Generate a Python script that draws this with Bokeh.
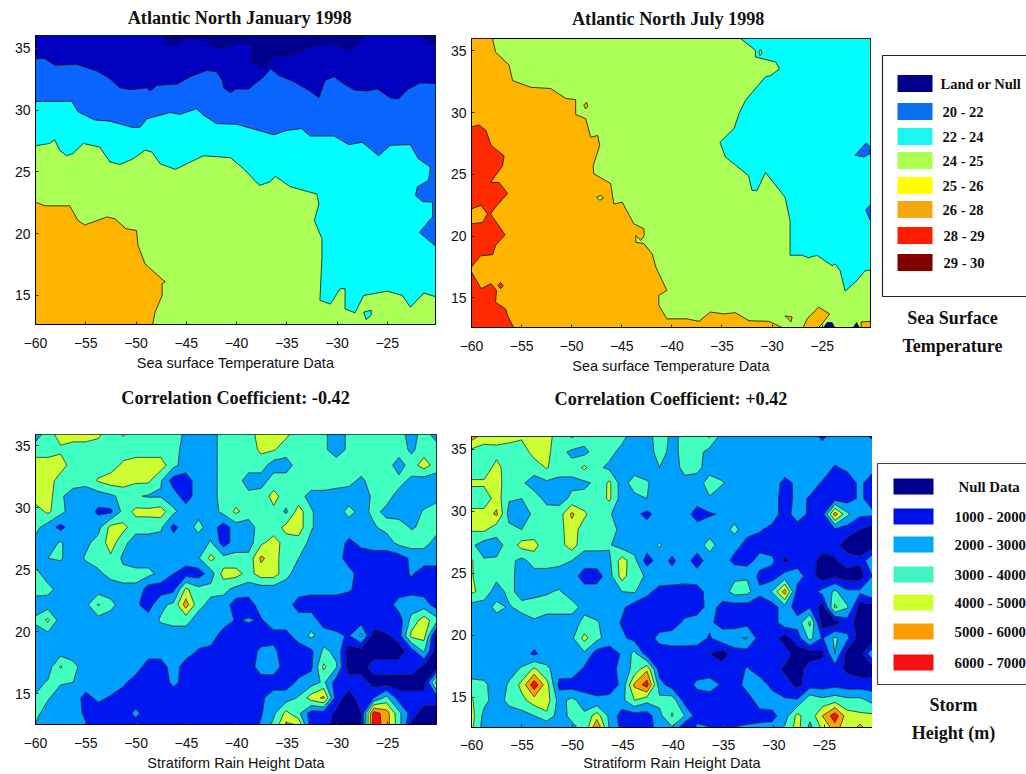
import numpy as np
from bokeh.plotting import figure
from bokeh.layouts import row, column
from bokeh.models import Range1d, FixedTicker
from bokeh.core.properties import value
from bokeh.embed import file_html
from bokeh.resources import INLINE

# ---------- text ----------
titles = ["Atlantic North January 1998", "Atlantic North July 1998",
          "Correlation Coefficient: -0.42", "Correlation Coefficient: +0.42"]
xlabels = ["Sea surface Temperature Data", "Sea surface Temperature Data",
           "Stratiform Rain Height Data", "Stratiform Rain Height Data"]
lon_ticks = [-60, -55, -50, -45, -40, -35, -30, -25]
lat_ticks = [15, 20, 25, 30, 35]

# ---------- colours ----------
C_DARK, C_NAVY, C_BLUE, C_CYAN = "#000090", "#0000BE", "#0A64FF", "#00FFFF"
C_GREEN, C_ORANGE, C_RED = "#ABFF57", "#FFB400", "#FF2A00"
sst_colors = ["#00008F", "#0A70F0", "#1CF5F0", "#ABFF50", "#FFFF00", "#F5A810", "#FF1C00", "#800000"]
sst_labels = ["Land or Null", "20 - 22", "22 - 24", "24 - 25", "25 - 26", "26 - 28", "28 - 29", "29 - 30"]
storm_colors = ["#00008F", "#0010E8", "#00A8F8", "#40F5C0", "#D0FF30", "#FF9C00", "#F81010"]
storm_labels = ["Null Data", "1000 - 2000", "2000 - 3000", "3000 - 4000", "4000 - 5000", "5000 - 6000", "6000 - 7000"]
height_levels = [0, 1000, 2000, 3000, 4000, 5000, 6000, 7000]
height_fill = ["#00008F", "#0018F0", "#00A0FF", "#40FFC0", "#CCFF33", "#FFA000", "#FF1000"]

# ---------- January SST contour boundaries (lon, lat) ----------
jan_navy = [(-60,34.16),(-59.07,34.16),(-58.07,33.62),(-55.9,33.7),(-53.9,33.16),(-52.6,32.54),(-51.6,31.8),(-50.6,31.65),
            (-48.9,31.8),(-48.6,31.55),(-47.9,32.0),(-45.9,32.1),(-44.6,32.7),(-43,33.2),(-42,33.1),(-41.4,32.4),(-41.3,31.8),
            (-40.6,31.4),(-40.1,31.7),(-38.8,31.7),(-37.3,32.7),(-36.6,33.35),(-35.8,32.8),(-34.3,32.3),(-32.8,31.6),(-31.8,31.0),
            (-31.2,32.4),(-30.3,32.7),(-29.3,32.1),(-28.2,31.6),(-27,31.55),(-26,31.7),(-24.7,31.0),(-23.9,30.9),(-22.9,31.7),
            (-21.7,32.2),(-20.2,32.15),(-20.2,36.03),(-60,36.03)]
jan_dark1 = [(-47.4,36.03),(-46.9,35.5),(-46.3,35.25),(-44.95,35.8),(-43.3,35.8),(-42.3,35.25),(-41.6,35),(-40.3,35.5),(-38.3,35.4),
             (-38.5,34),(-37.3,33.35),(-36.5,34.4),(-34.8,34.4),(-33,35.1),(-30.3,35.5),(-28.8,34.85),(-27.3,36.03)]
jan_dark2 = [(-21.4,36.03),(-21,35.65),(-20.2,35.25),(-20.2,36.03)]
jan_blue = [(-60,30.7),(-56.4,30.7),(-55.75,29.85),(-54.1,29.2),(-52.6,29.1),(-50.4,28.6),(-49.6,28.6),(-48.9,29.3),(-46.6,29.8),
            (-45.6,29.65),(-44,30.1),(-43.3,29.6),(-42,28.9),(-40,28.85),(-37.8,28.35),(-36.3,28),(-35,28.35),(-33.5,28.5),(-32.7,27.9),
            (-30.3,27.9),(-28.8,27.2),(-27.5,27.4),(-25.85,26.3),(-24.7,27.15),(-22.7,27.2),(-21.9,26.05),(-20.7,25.4),(-20.9,24.3),
            (-22,23.8),(-22.2,23.1),(-21.5,22.6),(-20.5,22.55),(-20.5,21.35),(-21.8,20.1),(-20.2,19),(-20.2,36.03),(-60,36.03)]
jan_cyan = [(-60,27.1),(-58.6,27.3),(-58.1,27.6),(-57.6,26.75),(-56.9,26.3),(-56.25,26.5),(-55.25,27.3),(-53.6,27),(-52.6,25.8),
            (-51.6,25.6),(-50.3,26.05),(-49.1,26.75),(-48.4,26.6),(-47.6,25.65),(-46.1,25.2),(-44.95,25.65),(-43.3,26.3),(-40.6,26.15),
            (-39.3,25.25),(-37.7,23.9),(-36.65,24.2),(-36.15,24.65),(-34.65,23.8),(-32,23.2),(-31.8,22.4),(-32.25,21.05),(-31.5,19.6),
            (-31.5,18.1),(-31.7,14.6),(-30.65,14.3),(-29.7,15.55),(-29.2,15.55),(-29.2,13.9),(-28.2,13.6),(-27.35,15),(-25,15.35),
            (-23.5,15),(-22.7,14.05),(-21.35,15.2),(-20.2,14.9),(-20.2,36.03),(-60,36.03)]
jan_cyan_islet = [(-27.35,13.65),(-26.6,13.8),(-26.6,13.4),(-27.1,13.05)]
jan_orange = [(-60,22.55),(-59.05,22.25),(-56.6,22.25),(-55.75,21.05),(-55.1,20.7),(-52.9,21.35),(-52.1,21.2),(-51,20.4),(-49.95,20.25),
              (-49.8,19.05),(-49.1,17.55),(-47.1,16.1),(-47.4,15.95),(-47.4,15),(-48.1,13.65),(-48.35,12.65),(-60,12.65)]

# ---------- July SST contour boundaries (lon, lat) ----------
jul_orange = [(-57.9,36),(-57.6,34.9),(-56.25,33.85),(-55.9,32.6),(-54.1,32.05),(-52.1,31.95),(-50.6,31.15),(-49.6,31.05),(-49.6,29.85),
              (-48.6,29.5),(-48.1,28),(-47.4,28.15),(-47.2,27.35),(-47.85,25.7),(-47.8,25.05),(-46.1,24.25),(-45.8,22.6),(-44.95,22.75),
              (-43.8,21),(-42.8,20.6),(-42.75,20.05),(-43.1,19.65),(-43.6,20.05),(-43.6,19.5),(-42.8,19.4),(-41.95,18.55),(-41.6,17.5),
              (-40.5,15.6),(-41.3,15.2),(-41.3,14.4),(-40.5,13.3),(-38.5,13.3),(-37.3,13.1),(-36.15,13.85),(-34.8,13.7),(-33.65,13.8),
              (-32.3,13.15),(-30.3,13.1),(-29,12.6),(-60,12.6),(-60,36)]
jul_red1 = [(-60,28.85),(-59.25,29),(-58.55,28.55),(-58.05,27.35),(-56.75,26.5),(-56.9,25.7),(-58.1,24.35),(-57.25,24.35),(-56.4,23.45),
            (-57.6,22.35),(-58.1,21.8),(-56.65,20.1),(-57.6,19.25),(-57.9,18.5),(-59.1,18.4),(-60,17.5)]
jul_orange_hole = [(-60,22.2),(-59.05,22.5),(-58.4,21.8),(-58.9,21.1),(-60,21)]
jul_red2 = [(-60,17.1),(-59.05,15.75),(-58.05,16.15),(-57.5,15.6),(-57.6,14.65),(-56.6,14.1),(-56.4,13.55),(-55.8,12.6),(-60,12.6)]
jul_cyan = [(-33.15,36),(-31.65,35.05),(-31.65,34.5),(-29.65,34.1),(-29.25,33.55),(-30.15,33),(-30.65,32.9),(-32.65,31),(-33.3,29.9),
            (-33.8,28.7),(-35.2,27.6),(-34.65,26.4),(-32.35,24.9),(-32,23.7),(-31.5,23.7),(-30.65,25.15),(-28.7,23.15),(-28.2,21.25),
            (-28.2,18.45),(-27,18.45),(-26.35,18.25),(-25.5,18.45),(-24,17.6),(-23.7,17.75),(-23.2,17.2),(-22.7,15.55),(-21.7,16.25),
            (-20.7,17.2),(-20.17,17.25),(-20.17,36)]
jul_blue1 = [(-21.7,26.55),(-20.6,27.55),(-20.17,27.2),(-20.25,26.65),(-20.85,26.4)]
jul_blue2 = [(-20.17,22.55),(-20.65,22.1),(-20.17,21.25)]
jul_orange_isl = [[(-26.9,12.6),(-26.5,13.3),(-25.35,14.25),(-24.25,13.7),(-25,12.9),(-25.35,12.6)],
                  [(-21.1,13.05),(-20.17,13.1),(-20.17,12.6),(-21.1,12.6)],
                  [(-28.7,13.55),(-28,13.45),(-28.1,13.05)],
                  [(-48.8,30.6),(-48.5,30.85),(-48.4,30.5),(-48.6,30.3)]]
jul_green_isl = [[(-47.5,23.15),(-47.1,23.3),(-46.8,23.1),(-47.2,22.9)], [(-31.3,35),(-31.1,35.1),(-31,34.8),(-31.2,34.6)]]
jul_red_isl = [[(-57.35,16),(-57.1,16.25),(-56.85,16),(-57.1,15.75)]]
jul_navy_isl = [[(-24.85,12.6),(-24.5,13),(-24,13),(-23.75,12.6)], [(-21.9,12.6),(-21.55,13),(-21.3,12.6)]]

# ---------- stratiform rain height, hundreds of metres, January (north to south) ----------
jan_height = [
 [25,35,45,45,45,42,35,41,35,35,35,35,28,25,25,35,35,35,45,45,42,35,35,32,25,32,35,35,35,35,25,35,25],
 [35,35,38,35,35,35,35,35,35,35,35,35,25,25,25,35,35,35,42,41,35,35,35,32,25,32,35,35,35,35,28,35,35],
 [45,45,45,35,33,35,35,42,45,45,45,33,25,25,25,35,35,35,35,25,25,35,35,35,35,35,35,35,35,25,35,45,35],
 [45,45,35,33,33,41,45,45,42,42,31,15,15,25,25,35,35,25,25,35,35,35,35,35,35,33,28,35,35,33,28,25,25],
 [45,45,31,27,25,25,28,33,31,29,29,25,15,25,25,35,35,33,35,43,36,33,27,27,25,25,25,32,33,27,25,25,27],
 [35,42,33,25,25,18,18,33,43,43,45,32,25,27,25,33,42,35,35,38,28,45,31,25,25,33,27,32,28,25,25,31,34],
 [33,25,17,25,25,27,43,43,34,34,32,17,25,33,25,15,25,25,35,35,43,45,31,25,30,25,25,29,33,35,29,32,33],
 [27,26,31,25,28,33,45,33,25,25,25,25,25,25,31,15,25,25,38,44,36,36,27,25,25,18,22,25,25,33,35,33,27],
 [25,30,31,25,31,34,38,28,25,25,25,25,25,29,43,33,33,33,52,45,33,30,25,25,25,15,16,15,15,15,22,25,25],
 [33,25,25,25,25,28,33,33,33,33,27,20,15,15,25,44,44,36,45,45,33,25,25,25,25,24,15,15,15,15,21,15,15],
 [34,33,26,25,25,25,25,28,28,15,15,17,42,33,33,33,27,25,25,25,25,25,23,23,23,21,17,15,15,15,17,15,15],
 [25,25,25,25,27,41,33,25,22,15,28,32,55,33,27,25,15,15,25,25,25,15,15,15,15,15,15,15,15,24,25,25,15],
 [32,42,25,25,25,26,25,25,25,25,31,33,33,26,25,25,19,21,19,25,25,25,25,15,15,15,15,17,20,15,33,45,34],
 [25,26,25,25,25,25,25,25,25,25,25,25,25,25,25,15,15,15,15,17,17,24,32,25,22,19,32,5,8,15,43,44,5],
 [25,25,25,25,25,25,25,25,25,25,25,25,25,19,17,15,15,15,22,22,15,15,18,32,28,5,5,5,5,5,15,31,5],
 [25,25,41,33,25,25,25,25,25,15,15,25,15,18,15,15,15,15,25,25,15,15,18,42,31,5,5,15,15,15,15,8,5],
 [27,31,31,30,25,25,25,22,15,15,15,22,17,15,15,15,15,15,15,15,15,22,25,32,15,15,15,5,5,5,5,5,45],
 [31,31,25,25,17,22,19,15,15,15,15,15,15,15,15,15,15,15,18,25,25,31,45,52,15,5,15,20,33,15,15,15,15],
 [33,25,25,25,18,15,15,15,22,15,15,15,15,15,15,15,15,15,19,28,43,32,15,15,8,5,10,65,55,33,15,5,5],
 [28,25,25,25,22,15,15,15,15,15,15,15,15,15,15,15,15,15,22,34,55,55,15,15,5,5,8,67,55,35,5,5,5],
]

# ---------- stratiform rain height, hundreds of metres, July (north to south) ----------
jul_height = [
 [55,45,45,45,42,45,44,35,41,35,35,35,33,25,26,35,28,32,35,41,25,25,25,25,25,25,25,25,18,25,25,22,19],
 [36,35,36,33,33,45,43,33,28,27,35,33,27,25,25,34,27,33,34,26,25,25,25,25,25,25,25,25,25,25,25,25,25],
 [33,33,44,33,33,33,41,33,33,42,32,28,25,25,25,30,25,33,33,25,25,25,25,25,25,25,25,25,25,19,22,23,23],
 [42,42,45,33,31,27,28,28,28,28,32,42,25,35,31,25,25,27,25,35,31,25,25,25,25,17,22,24,19,15,15,22,15],
 [33,33,45,31,30,33,28,26,32,33,33,42,25,27,30,25,25,25,25,29,23,25,25,25,25,15,23,19,15,15,15,22,15],
 [44,44,52,26,25,32,33,35,52,42,33,31,25,23,17,25,25,25,15,19,21,25,25,24,25,15,25,18,15,55,32,22,22],
 [41,42,33,33,30,33,33,37,45,35,33,33,28,25,25,25,26,25,25,25,25,33,23,21,17,15,15,15,15,18,15,10,5],
 [32,25,27,33,44,44,32,36,45,33,33,31,25,25,25,31,25,25,25,34,25,23,17,15,15,15,15,15,15,13,5,5,5],
 [41,31,31,33,27,34,35,33,30,25,25,28,45,33,15,25,18,25,15,25,25,17,15,25,22,8,15,15,5,9,15,12,30],
 [41,33,33,33,26,26,25,25,25,15,15,26,44,33,29,25,24,25,25,24,25,28,29,17,15,24,25,15,5,9,5,5,20],
 [42,36,25,33,26,28,29,31,25,25,25,25,30,31,22,17,17,15,16,24,25,34,33,22,31,55,15,15,23,32,22,22,30],
 [25,25,33,29,33,33,34,34,34,27,25,25,22,15,15,15,15,15,15,24,17,15,15,15,15,26,15,19,5,42,31,5,5],
 [25,25,25,25,25,29,25,25,25,33,31,25,19,15,15,15,15,22,25,22,16,15,17,15,15,26,24,42,5,5,15,5,5],
 [25,25,25,25,25,25,25,25,28,43,33,25,22,17,15,23,25,25,24,19,26,28,31,15,15,5,15,33,19,32,22,5,5],
 [25,25,25,25,25,18,25,25,26,28,15,15,21,33,15,15,15,15,15,10,5,15,15,15,15,15,5,5,8,30,5,5,28],
 [25,25,25,27,31,42,32,25,27,18,15,15,24,33,48,15,15,15,15,15,15,15,21,15,15,8,5,15,15,15,8,5,5],
 [33,32,25,31,43,67,44,17,15,15,15,15,22,52,65,24,15,15,22,24,19,15,24,25,17,15,7,15,15,17,15,15,15],
 [41,33,25,33,37,45,45,26,33,25,22,23,27,40,33,33,36,16,15,15,15,15,15,25,25,21,21,38,33,36,33,33,27],
 [44,27,25,25,26,30,38,25,33,32,45,28,15,15,15,27,41,30,15,15,15,15,15,16,17,25,43,33,50,66,44,42,42],
 [42,25,25,25,25,25,15,22,25,32,67,30,18,15,15,24,25,5,25,22,15,22,24,25,25,33,44,25,40,52,45,57,45],
]


def base_fig(i, x_end, y0, y1, left, right, bottom, fw, fh, tick_off=13, lab_off=4):
    p = figure(frame_width=fw, frame_height=fh, output_backend="svg", toolbar_location=None,
               x_range=Range1d(-60, x_end), y_range=Range1d(y0, y1),
               min_border_left=left, min_border_right=right, min_border_top=1, min_border_bottom=bottom)
    p.grid.visible = False
    p.outline_line_color = "black"
    p.outline_line_width = 1
    p.xaxis.axis_label = xlabels[i]
    p.xaxis.axis_label_text_font = "Liberation Sans"
    p.xaxis.axis_label_text_font_size = "14.5px"
    p.xaxis.axis_label_text_font_style = "normal"
    p.xaxis.axis_label_text_color = "#111111"
    p.xaxis.axis_label_standoff = lab_off
    p.xaxis.ticker = FixedTicker(ticks=lon_ticks)
    p.xaxis.major_label_overrides = {t: "\u2212%d" % abs(t) for t in lon_ticks}
    p.yaxis.ticker = FixedTicker(ticks=lat_ticks)
    for ax in (p.xaxis, p.yaxis):
        ax.major_label_text_font = "Liberation Sans"
        ax.major_label_text_font_size = "14px"
        ax.major_label_text_color = "#111111"
        ax.major_tick_in = 3
        ax.major_tick_out = 0
        ax.minor_tick_in = 0
        ax.minor_tick_out = 0
        ax.major_tick_line_color = "#333333"
        ax.axis_line_color = "black"
    p.xaxis.major_label_standoff = tick_off
    p.yaxis.major_label_standoff = 5
    return p


def bare_fig(x0, x1, y0, y1):
    # A panel without axes whose ranges are the page's own pixels
    p = figure(width=x1 - x0, height=y1 - y0, output_backend="svg", toolbar_location=None,
               x_range=Range1d(x0, x1), y_range=Range1d(y1, y0),
               min_border=0, min_border_left=0, min_border_right=0, min_border_top=0, min_border_bottom=0)
    p.axis.visible = False
    p.grid.visible = False
    p.outline_line_color = None
    return p


def title_strip(i, x0, x1, y0, y1, cx, cy):
    s = bare_fig(x0, x1, y0, y1)
    s.text(x=[cx], y=[cy], text=[titles[i]], text_font=value("Liberation Serif"), text_font_style="bold",
           text_font_size="18.2px", text_align="center", text_baseline="middle", text_color="#111111")
    return s


def poly(p, pts, color):
    xs, ys = zip(*pts)
    p.patch(list(xs), list(ys), fill_color=color, line_color="#101010", line_width=0.8)


def height_map(p, grid, lat0, x_end):
    z = np.array(grid, dtype=float) * 100
    lon = np.linspace(-60, x_end, z.shape[1])
    lat = lat0 - 1.25 * np.arange(z.shape[0])
    p.contour(lon, lat[::-1], z[::-1], levels=height_levels, fill_color=height_fill,
              line_color="#101010", line_width=0.7)


# January SST
p1 = base_fig(0, -20.2, 12.65, 36.03, 35, 5, 56, 400, 289)
p1.background_fill_color = C_GREEN
poly(p1, jan_cyan, C_CYAN)
poly(p1, jan_blue, C_BLUE)
poly(p1, jan_navy, C_NAVY)
poly(p1, jan_dark1, C_DARK)
poly(p1, jan_dark2, C_DARK)
poly(p1, jan_cyan_islet, C_CYAN)
poly(p1, jan_orange, C_ORANGE)

# July SST
p2 = base_fig(1, -20.17, 12.6, 36.0, 31, 2, 53, 399, 289)
p2.background_fill_color = C_GREEN
poly(p2, jul_orange, C_ORANGE)
poly(p2, jul_red1, C_RED)
poly(p2, jul_orange_hole, C_ORANGE)
poly(p2, jul_red2, C_RED)
poly(p2, jul_cyan, C_CYAN)
poly(p2, jul_blue1, C_BLUE)
poly(p2, jul_blue2, C_BLUE)
for s in jul_orange_isl:
    poly(p2, s, C_ORANGE)
for s in jul_green_isl:
    poly(p2, s, C_GREEN)
for s in jul_red_isl:
    poly(p2, s, C_RED)
for s in jul_navy_isl:
    poly(p2, s, C_DARK)

# Height maps
p3 = base_fig(2, -20.13, 12.53, 35.9, 34, 5, 50, 401, 290)
height_map(p3, jan_height, 35.93, -20.13)
p4 = base_fig(3, -20.2, 12.58, 36.02, 30, 1, 47, 401, 291, 12, 2)
height_map(p4, jul_height, 36.02, -20.2)

# Titles
t1 = title_strip(0, 0, 440, 0, 34, 224.5, 17)
t2 = title_strip(1, 440, 872, 0, 37, 653, 18)
t3 = title_strip(2, 0, 440, 380, 433, 220, 397)
t4 = title_strip(3, 440, 872, 380, 435, 656, 398)

# Legends
leg = bare_fig(872, 1026, 0, 774)
sst_rows = [83, 111, 136, 160, 185, 209, 235, 262]
storm_rows = [486, 516, 544, 574, 602, 631, 662]
leg.quad(left=[882], right=[1040], top=[55], bottom=[296], fill_color="white", line_color="#222222", line_width=1.2)
leg.quad(left=[877], right=[1040], top=[463], bottom=[684], fill_color="white", line_color="#444444", line_width=1.2)
leg.rect(x=[914.5] * 8, y=sst_rows, width=[35] * 8, height=[17] * 8, fill_color=sst_colors, line_color=None)
leg.rect(x=[913] * 7, y=storm_rows, width=[40] * 7, height=[16] * 7, fill_color=storm_colors, line_color=None)
leg.text(x=[940, 942, 942, 942, 942, 942, 943, 943], y=sst_rows, text=sst_labels, text_font=value("Liberation Serif"),
         text_font_style="bold", text_font_size="14.5px", text_baseline="middle", text_color="#111111")
leg.text(x=[958] + [954] * 6, y=storm_rows, text=storm_labels, text_font=value("Liberation Serif"), text_font_style="bold",
         text_font_size="14.8px", text_baseline="middle", text_color="#111111")
leg.text(x=[952, 952, 953, 953], y=[317, 345, 704, 732],
         text=["Sea Surface", "Temperature", "Storm", "Height (m)"],
         text_font=value("Liberation Serif"), text_font_style="bold", text_font_size="18px",
         text_align="center", text_baseline="middle", text_color="#111111")

layout = row(column(t1, p1, t3, p3), column(t2, p2, t4, p4), leg)
open("out.html", "w").write(file_html(layout, INLINE))
